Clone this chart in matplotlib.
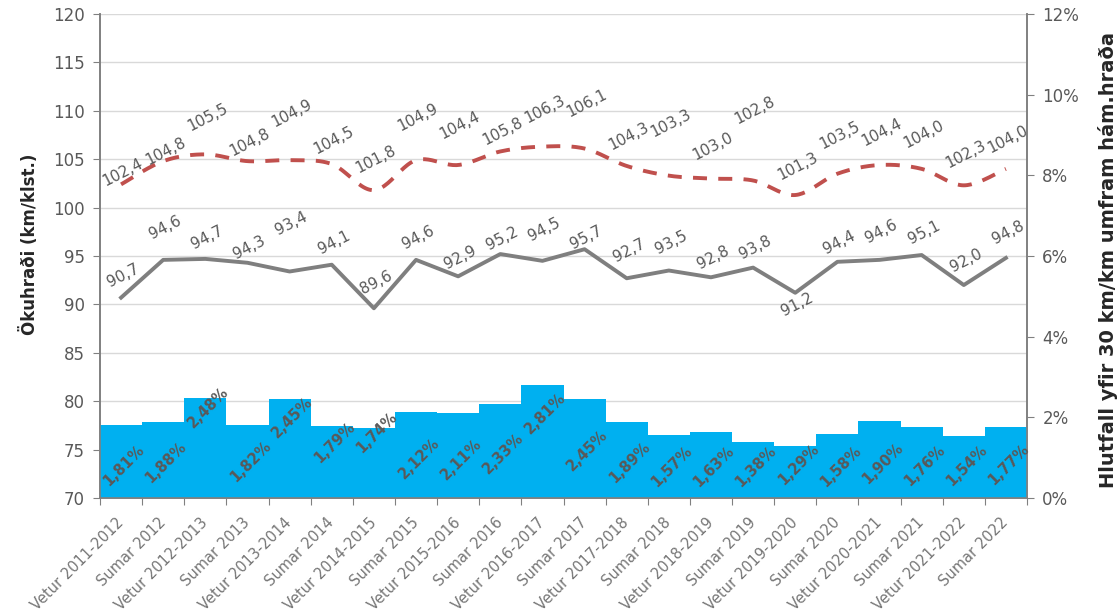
import numpy as np
import matplotlib
matplotlib.use("Agg")
import matplotlib.pyplot as plt
from matplotlib.ticker import FuncFormatter

categories = ["Vetur 2011-2012", "Sumar 2012", "Vetur 2012-2013", "Sumar 2013",
              "Vetur 2013-2014", "Sumar 2014", "Vetur 2014-2015", "Sumar 2015",
              "Vetur 2015-2016", "Sumar 2016", "Vetur 2016-2017", "Sumar 2017",
              "Vetur 2017-2018", "Sumar 2018", "Vetur 2018-2019", "Sumar 2019",
              "Vetur 2019-2020", "Sumar 2020", "Vetur 2020-2021", "Sumar 2021",
              "Vetur 2021-2022", "Sumar 2022"]
speed_85 = [102.4, 104.8, 105.5, 104.8, 104.9, 104.5, 101.8, 104.9, 104.4, 105.8, 106.3,
            106.1, 104.3, 103.3, 103.0, 102.8, 101.3, 103.5, 104.4, 104.0, 102.3, 104.0]
speed_mean = [90.7, 94.6, 94.7, 94.3, 93.4, 94.1, 89.6, 94.6, 92.9, 95.2, 94.5,
              95.7, 92.7, 93.5, 92.8, 93.8, 91.2, 94.4, 94.6, 95.1, 92.0, 94.8]
share_over = [1.81, 1.88, 2.48, 1.82, 2.45, 1.79, 1.74, 2.12, 2.11, 2.33, 2.81,
              2.45, 1.89, 1.57, 1.63, 1.38, 1.29, 1.58, 1.90, 1.76, 1.54, 1.77]

# label offsets (pixels, positive = up)
red_lab_dy = [12, 10, 37, 19, 47, 24, 31, 43, 40, 20, 37, 45, 30, 52, 32, 70, 29, 38, 33, 35, 31, 30]
gray_lab_dy = [22, 32, 21, 15, 48, 22, 26, 22, 19, 16, 31, 12, 28, 28, 20, 20, -12, 19, 28, 23, 25, 25]
bar_lab_dy = [-40, -40, -9, -37, -18, -17, -5, -46, -46, -49, -29, -51, -41, -32, -34, -24, -18, -32, -42, -38, -29, -38]

plt.rcParams['font.family'] = ['DejaVu Sans']


def catmull_rom(xs, ys, n=24):
    p = np.column_stack([xs, ys]).astype(float)
    p = np.vstack([p[0], p, p[-1]])
    out = []
    t = np.linspace(0, 1, n, endpoint=False)[:, None]
    for i in range(1, len(p) - 2):
        p0, p1, p2, p3 = p[i - 1], p[i], p[i + 1], p[i + 2]
        seg = 0.5 * ((2 * p1) + (-p0 + p2) * t + (2 * p0 - 5 * p1 + 4 * p2 - p3) * t ** 2
                     + (-p0 + 3 * p1 - 3 * p2 + p3) * t ** 3)
        out.append(seg)
    out.append(p[-2][None, :])
    out = np.vstack(out)
    return out[:, 0], out[:, 1]


fig = plt.figure(figsize=(11.2, 6.16), dpi=100)
ax = fig.add_axes([100 / 1120, 118 / 616, 927 / 1120, 484 / 616])
ax2 = ax.twinx()

x = np.arange(len(categories))

# bars (secondary axis)
ax2.bar(x, share_over, width=1.0, color='#00B0F0', edgecolor='none', zorder=2)
ax2.set_ylim(0, 12)
ax2.set_yticks(np.arange(0, 13, 2))
ax2.yaxis.set_major_formatter(FuncFormatter(lambda v, p: f"{v:.0f}%"))

for i, v in enumerate(share_over):
    ax2.annotate(f"{v:.2f}".replace('.', ',') + "%", (x[i], v), xytext=(3, bar_lab_dy[i]),
                 textcoords='offset pixels', rotation=45, ha='center', va='center',
                 rotation_mode='anchor', fontsize=10.5, fontweight='bold', color='#595959',
                 zorder=5)

sx, sy = catmull_rom(x, speed_85)
ax.set_xlim(-0.5, len(categories) - 0.5)
ax.set_ylim(70, 120)
ax.set_yticks(np.arange(70, 121, 5))

# lines use the primary (km/klst.) scale, drawn on the top layer
ax2.plot(sx, sy, color='#C0504D', lw=2.8, linestyle=(0, (3.6, 2.9)),
         transform=ax.transData, zorder=4)
ax2.plot(x, speed_mean, color='#7F7F7F', lw=2.8, transform=ax.transData, zorder=4)

for i, v in enumerate(speed_85):
    ax2.annotate(f"{v:.1f}".replace('.', ','), (x[i], v), xycoords=ax.transData,
                 xytext=(2, red_lab_dy[i]), textcoords='offset pixels', rotation=27,
                 ha='center', va='center', rotation_mode='anchor', fontsize=11,
                 color='#595959', zorder=6)
for i, v in enumerate(speed_mean):
    ax2.annotate(f"{v:.1f}".replace('.', ','), (x[i], v), xycoords=ax.transData,
                 xytext=(2, gray_lab_dy[i]), textcoords='offset pixels', rotation=27,
                 ha='center', va='center', rotation_mode='anchor', fontsize=11,
                 color='#595959', zorder=6)

# grid
ax.yaxis.grid(True, color='#D9D9D9', lw=1)
ax.set_axisbelow(True)

# x ticks: marks at category boundaries, labels at centres
ax.set_xticks(np.arange(-0.5, len(categories), 1.0))
ax.set_xticklabels([])
ax.set_xticks(x, minor=True)
ax.set_xticklabels(categories, minor=True, rotation=45, ha='right', va='center',
                   rotation_mode='anchor', fontsize=10.5, color='#767676')
ax.tick_params(axis='x', which='major', length=5, color='#808080')
ax.tick_params(axis='x', which='minor', length=0, pad=16)

ax.tick_params(axis='y', length=5, color='#808080', labelcolor='#595959', labelsize=12, pad=6)
ax2.tick_params(axis='y', length=5, color='#808080', labelcolor='#595959', labelsize=12, pad=6)

for a in (ax, ax2):
    a.spines['top'].set_visible(False)
    for s in ('left', 'right', 'bottom'):
        a.spines[s].set_color('#808080')
        a.spines[s].set_linewidth(1.2)

fig.text(0.026, 0.604, "Ökuhraði (km/klst.)", rotation=90, ha='center', va='center',
         fontsize=12, fontweight='bold', color='#262626')
fig.text(0.989, 0.578, "Hlutfall yfir 30 km/km umfram hám.hraða", rotation=90,
         ha='center', va='center', fontsize=14, fontweight='bold', color='#262626')

fig.savefig("out.png", dpi=100)
